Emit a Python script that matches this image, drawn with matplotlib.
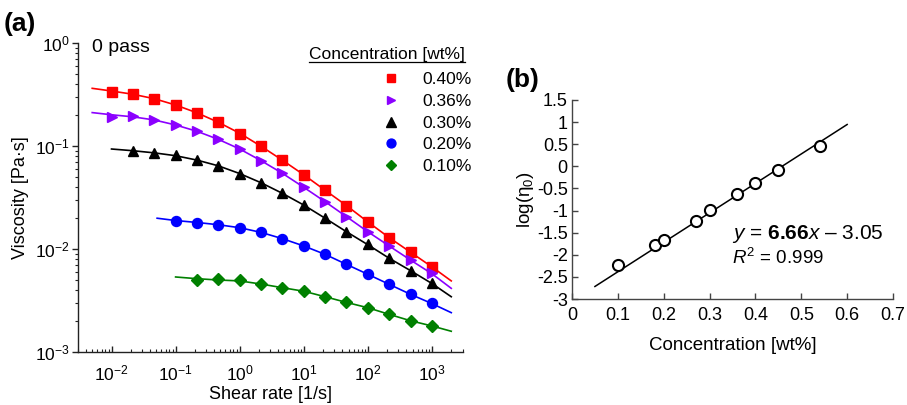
import matplotlib
matplotlib.use("Agg")
import matplotlib.pyplot as plt
from matplotlib.lines import Line2D
from matplotlib.ticker import LogLocator, NullFormatter, MultipleLocator, FuncFormatter

plt.rcParams['font.family'] = ['Liberation Sans', 'DejaVu Sans']
plt.rcParams['mathtext.fontset'] = 'custom'
plt.rcParams['mathtext.rm'] = 'Liberation Sans'
plt.rcParams['mathtext.it'] = 'Liberation Sans:italic'
plt.rcParams['mathtext.bf'] = 'Liberation Sans:bold'
plt.rcParams['mathtext.default'] = 'regular'
plt.rcParams['axes.unicode_minus'] = False

# ---- (a) flow curves ----
shear_rate = [0.01, 0.0215, 0.0464, 0.1, 0.215, 0.464, 1, 2.15, 4.64,
              10, 21.5, 46.4, 100, 215, 464, 1000]
shear_ticks = [1e-2, 1e-1, 1e0, 1e1, 1e2, 1e3]
visc_ticks = [1e-3, 1e-2, 1e-1, 1e0]

visc_040 = [0.337, 0.318, 0.286, 0.248, 0.209, 0.170, 0.132, 0.0993, 0.0726,
            0.0523, 0.0370, 0.0263, 0.0182, 0.0129, 0.0093, 0.00673]
visc_036 = [0.190, 0.194, 0.179, 0.160, 0.139, 0.116, 0.0935, 0.0721, 0.0543,
            0.0397, 0.0288, 0.0206, 0.0147, 0.0108, 0.00782, 0.00581]
visc_030 = [0.0894, 0.0855, 0.0813, 0.0732, 0.0644, 0.0539, 0.0440, 0.0347,
            0.0267, 0.0199, 0.0147, 0.0112, 0.00813, 0.00616, 0.00465]
visc_020 = [0.0188, 0.0180, 0.0172, 0.0161, 0.0145, 0.0126, 0.0107, 0.00887,
            0.00709, 0.00568, 0.00454, 0.00363, 0.00297]
visc_010 = [0.00500, 0.00508, 0.00500, 0.00457, 0.00421, 0.00391, 0.00344,
            0.00303, 0.00269, 0.00232, 0.00201, 0.00179]

# fitted model curves (shear rate, viscosity)
fit_040_x = [0.005, 0.01, 0.0215, 0.0464, 0.1, 0.215, 0.464, 1, 2.15, 4.64, 10, 21.5, 46.4, 100, 215, 464, 1000, 2000]
fit_040_y = [0.363, 0.342, 0.318, 0.288, 0.250, 0.210, 0.170, 0.133, 0.0995, 0.0728,
             0.0525, 0.0372, 0.0264, 0.0183, 0.0129, 0.0093, 0.00670, 0.0049]
fit_036_x = [0.005, 0.01, 0.0215, 0.0464, 0.1, 0.215, 0.464, 1, 2.15, 4.64, 10, 21.5, 46.4, 100, 215, 464, 1000, 2000]
fit_036_y = [0.211, 0.201, 0.192, 0.179, 0.160, 0.139, 0.116, 0.0935, 0.0721, 0.0543,
             0.0397, 0.0288, 0.0206, 0.0147, 0.0107, 0.00780, 0.00575, 0.00415]
fit_030_x = [0.01, 0.0215, 0.0464, 0.1, 0.215, 0.464, 1, 2.15, 4.64, 10, 21.5, 46.4, 100, 215, 464, 1000, 2000]
fit_030_y = [0.0935, 0.0900, 0.0858, 0.0805, 0.0730, 0.0642, 0.0540, 0.0440, 0.0347,
             0.0267, 0.0199, 0.0147, 0.0110, 0.00813, 0.00616, 0.00462, 0.00344]
fit_020_x = [0.0515, 0.1, 0.215, 0.464, 1, 2.15, 4.64, 10, 21.5, 46.4, 100, 215, 464, 1000, 2000]
fit_020_y = [0.0199, 0.0189, 0.0181, 0.0172, 0.0161, 0.0145, 0.0126, 0.0107, 0.00887,
             0.00709, 0.00568, 0.00454, 0.00363, 0.00295, 0.00241]
fit_010_x = [0.1, 0.215, 0.464, 1, 2.15, 4.64, 10, 21.5, 46.4, 100, 215, 464, 1000, 2000]
fit_010_y = [0.00535, 0.00515, 0.00500, 0.00490, 0.00457, 0.00421, 0.00389, 0.00344,
             0.00303, 0.00269, 0.00232, 0.00201, 0.00179, 0.00159]

labels = ['0.40%', '0.36%', '0.30%', '0.20%', '0.10%']
colors = ['#ff0000', '#8b00ff', '#000000', '#0000ff', '#008000']
markers = ['s', '>', '^', 'o', 'D']
msizes = [6.8, 6.8, 7.8, 7.2, 6.2]

# ---- (b) zero-shear viscosity vs concentration ----
conc = [0.10, 0.18, 0.20, 0.27, 0.30, 0.36, 0.40, 0.45, 0.54]
log_eta0 = [-2.23, -1.78, -1.66, -1.24, -0.98, -0.62, -0.37, -0.08, 0.45]
fit_slope = 6.66
fit_intercept = -3.05
fit_range = [0.05, 0.60]

fig = plt.figure(figsize=(9.07, 4.05), dpi=100)

# panel (a)
ax1 = fig.add_axes([78 / 907, 1 - 352 / 405, (463 - 78) / 907, (352 - 43) / 405])
series = [visc_040, visc_036, visc_030, visc_020, visc_010]
fits = [(fit_040_x, fit_040_y), (fit_036_x, fit_036_y), (fit_030_x, fit_030_y),
        (fit_020_x, fit_020_y), (fit_010_x, fit_010_y)]
handles = []
for vals, (fx, fy), lab, col, mk, ms in zip(series, fits, labels, colors, markers, msizes):
    ax1.plot(fx, fy, color=col, lw=1.2, zorder=2)
    xs = shear_rate[len(shear_rate) - len(vals):]
    ax1.plot(xs, vals, linestyle='none', marker=mk, ms=ms, color=col,
             markeredgecolor=col, zorder=3)
    handles.append(Line2D([], [], linestyle='none', marker=mk, ms=ms - 0.8,
                          color=col, label=lab))

ax1.set_xscale('log')
ax1.set_yscale('log')
ax1.set_xlim(0.003, 3050)
ax1.set_ylim(1e-3, 1e0)
for s in ['top', 'right']:
    ax1.spines[s].set_visible(False)
for s in ['left', 'bottom']:
    ax1.spines[s].set_linewidth(1.0)
    ax1.spines[s].set_color('#222222')
ax1.set_xticks(shear_ticks)
ax1.set_yticks(visc_ticks)
ax1.xaxis.set_minor_locator(LogLocator(base=10, subs=range(2, 10), numticks=20))
ax1.xaxis.set_minor_formatter(NullFormatter())
ax1.yaxis.set_minor_locator(LogLocator(base=10, subs=range(2, 10), numticks=10))
ax1.yaxis.set_minor_formatter(NullFormatter())
ax1.set_xlim(0.003, 3050)
ax1.set_ylim(1e-3, 1e0)
ax1.tick_params(axis='x', which='major', direction='in', length=4, width=1.0,
                labelsize=12.5, pad=8, color='#222222')
ax1.tick_params(axis='x', which='minor', direction='in', length=2.2, width=0.8, color='#222222')
ax1.tick_params(axis='y', which='major', direction='out', length=4, width=1.0,
                labelsize=12.5, pad=2, color='#222222')
ax1.tick_params(axis='y', which='minor', direction='out', length=2.2, width=0.8, color='#222222')
ax1.set_xlabel('Shear rate [1/s]', fontsize=13, labelpad=2)
ax1.set_ylabel('Viscosity [Pa·s]', fontsize=13, labelpad=4)
ax1.text(92 / 907, 1 - 47 / 405, '0 pass', transform=fig.transFigure,
         fontsize=14, va='center', ha='left')

# legend title drawn separately so it can carry an underline
title_txt = fig.text(465 / 907, 1 - 55 / 405, 'Concentration [wt%]', fontsize=12.5,
                     ha='right', va='center')
leg = ax1.legend(handles=handles, loc='upper right',
                 bbox_to_anchor=(472 / 907, 1 - 72 / 405),
                 bbox_transform=fig.transFigure, frameon=False, fontsize=12.5,
                 handlelength=1.0, handletextpad=1.3,
                 labelspacing=0.38, borderpad=0, borderaxespad=0)

# panel (b)
ax2 = fig.add_axes([572 / 907, 1 - 299 / 405, (893 - 572) / 907, (299 - 100) / 405])
ax2.plot(fit_range, [fit_slope * v + fit_intercept for v in fit_range],
         color='black', lw=1.1, zorder=2)
ax2.plot(conc, log_eta0, linestyle='none', marker='o', ms=8, mfc='white',
         mec='black', mew=1.5, zorder=3)
ax2.set_xlim(0, 0.7)
ax2.set_ylim(-3, 1.5)
for s in ['top', 'right']:
    ax2.spines[s].set_visible(False)
for s in ['left', 'bottom']:
    ax2.spines[s].set_linewidth(1.0)
    ax2.spines[s].set_color('#444444')
ax2.xaxis.set_major_locator(MultipleLocator(0.1))
ax2.yaxis.set_major_locator(MultipleLocator(0.5))
ax2.xaxis.set_major_formatter(FuncFormatter(lambda v, p: f'{v:g}' if abs(v) > 1e-9 else '0'))
ax2.yaxis.set_major_formatter(FuncFormatter(lambda v, p: f'{v:g}' if abs(v) > 1e-9 else '0'))
ax2.tick_params(axis='both', direction='in', length=4, width=1.0, labelsize=13,
                color='#444444')
ax2.tick_params(axis='x', pad=6)
ax2.tick_params(axis='y', pad=3)
ax2.set_xlabel('Concentration [wt%]', fontsize=13.5, labelpad=9)
ax2.set_ylabel('log(η$_0$)', fontsize=13.5, labelpad=1)
ax2.text(732 / 907, 1 - 234 / 405, r'$\it{y}$ = $\bf{6.66}$$\it{x}$ – 3.05',
         transform=fig.transFigure, fontsize=15, va='center', ha='left')
ax2.text(732 / 907, 1 - 258 / 405, r'$\it{R}^{2}$ = 0.999',
         transform=fig.transFigure, fontsize=13.5, va='center', ha='left')

fig.text(4 / 907, 1 - 24 / 405, '(a)', fontsize=19, fontweight='bold', va='center', ha='left')
fig.text(506 / 907, 1 - 80 / 405, '(b)', fontsize=19, fontweight='bold', va='center', ha='left')

# underline for the legend title
fig.canvas.draw()
bb = title_txt.get_window_extent(fig.canvas.get_renderer())
inv = fig.transFigure.inverted()
(x0, y0), (x1, _) = inv.transform([(bb.x0, bb.y0), (bb.x1, bb.y0)])
fig.add_artist(Line2D([x0, x1], [y0 + 1 / 405, y0 + 1 / 405], color='black', lw=0.9,
                      transform=fig.transFigure))

fig.savefig('out.png', dpi=100)
